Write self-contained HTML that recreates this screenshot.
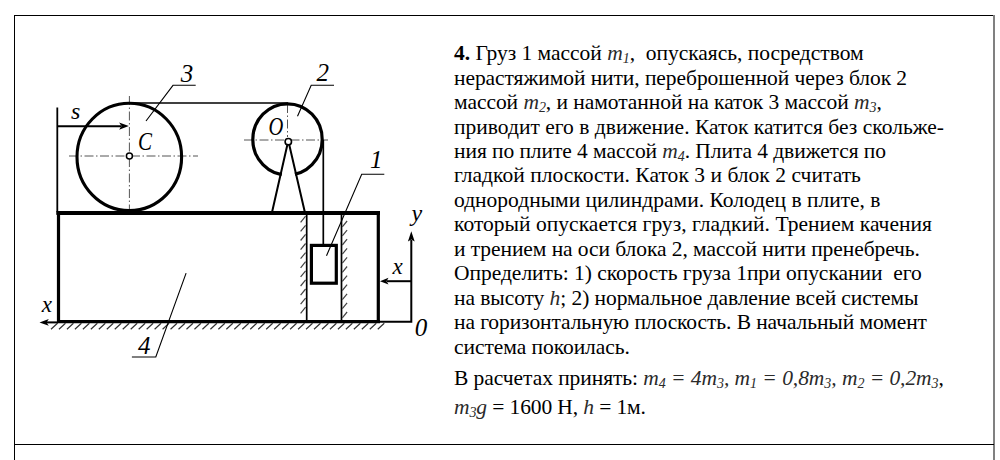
<!DOCTYPE html>
<html><head><meta charset="utf-8">
<style>
html,body{margin:0;padding:0;background:#fff;width:1000px;height:460px;overflow:hidden;position:relative}
.t{position:absolute;left:454px;font-family:"Liberation Serif",serif;font-size:21.5px;line-height:24px;white-space:pre;color:#000}
.t i{font-style:italic;color:#2a2a2a}
.t sub{font-size:14px;vertical-align:baseline;position:relative;top:3px;line-height:0}
svg{position:absolute;left:0;top:0}
.lb{font-family:"Liberation Serif",serif;font-style:italic;font-size:25px}
</style></head><body>
<svg width="1000" height="460" viewBox="0 0 1000 460">
  <rect x="14" y="15" width="1" height="445" fill="#000"/>
  <rect x="14" y="15" width="980" height="1" fill="#000"/>
  <rect x="993" y="15" width="2" height="445" fill="#808080"/>
  <rect x="14" y="444" width="980" height="1" fill="#000"/>
  <g stroke="#000" fill="none" stroke-linecap="butt">
    <g stroke="#555" stroke-width="1" stroke-dasharray="9 2.5 1.5 2.5">
      <path d="M67 156H198" stroke-dashoffset="-2"/>
      <path d="M129.4 96V211"/>
      <path d="M244 140H328"/>
      <path d="M287.5 104V137"/>
    </g>
    <ellipse cx="129.3" cy="156.9" rx="52.3" ry="53.6" stroke-width="3.1"/>
    <ellipse cx="287.5" cy="139.4" rx="34.7" ry="35.6" stroke-width="3.2"/>
    <path d="M288.3 146L273.5 211L303.5 211Z" fill="#fff" stroke="none"/>
    <path d="M129.5 103H288" stroke-width="1.7"/>
    <path d="M323.3 140V245" stroke-width="1.7"/>
    <path d="M57.3 107.5V212" stroke-width="1.8"/>
    <path d="M57.3 126.2H121" stroke-width="2"/>
    <path d="M287.3 145L272.2 211.5M289.3 145L304.7 211.5" stroke-width="2"/>
    <path d="M56.5 213H380M58.5 211V321.6M378.3 213V323M57 321.6H380" stroke-width="3.2"/>
    <path d="M56.5 213H380" stroke-width="3.8"/>
    <path d="M306.7 213V321.4M341.5 213V321.4" stroke-width="1.7"/>
    <path d="M300.6 222.30L305.6 216.20 M300.6 231.40L305.6 225.30 M300.6 240.50L305.6 234.40 M300.6 249.60L305.6 243.50 M300.6 258.70L305.6 252.60 M300.6 267.80L305.6 261.70 M300.6 276.90L305.6 270.80 M300.6 286.00L305.6 279.90 M300.6 295.10L305.6 289.00 M300.6 304.20L305.6 298.10 M300.6 313.30L305.6 307.20 M342.3 226.80L347.1 221.00 M342.3 235.90L347.1 230.10 M342.3 245.00L347.1 239.20 M342.3 254.10L347.1 248.30 M342.3 263.20L347.1 257.40 M342.3 272.30L347.1 266.50 M342.3 281.40L347.1 275.60 M342.3 290.50L347.1 284.70 M342.3 299.60L347.1 293.80 M342.3 308.70L347.1 302.90 M342.3 317.80L347.1 312.00" stroke-width="1.2" stroke="#444"/>
    <path d="M51.00 329.2L57.50 323.2 M58.97 329.2L65.47 323.2 M66.94 329.2L73.44 323.2 M74.91 329.2L81.41 323.2 M82.88 329.2L89.38 323.2 M90.85 329.2L97.35 323.2 M98.82 329.2L105.32 323.2 M106.79 329.2L113.29 323.2 M114.76 329.2L121.26 323.2 M122.73 329.2L129.23 323.2 M130.70 329.2L137.20 323.2 M138.67 329.2L145.17 323.2 M146.64 329.2L153.14 323.2 M154.61 329.2L161.11 323.2 M162.58 329.2L169.08 323.2 M170.55 329.2L177.05 323.2 M178.52 329.2L185.02 323.2 M186.49 329.2L192.99 323.2 M194.46 329.2L200.96 323.2 M202.43 329.2L208.93 323.2 M210.40 329.2L216.90 323.2 M218.37 329.2L224.87 323.2 M226.34 329.2L232.84 323.2 M234.31 329.2L240.81 323.2 M242.28 329.2L248.78 323.2 M250.25 329.2L256.75 323.2 M258.22 329.2L264.72 323.2 M266.19 329.2L272.69 323.2 M274.16 329.2L280.66 323.2 M282.13 329.2L288.63 323.2 M290.10 329.2L296.60 323.2 M298.07 329.2L304.57 323.2 M306.04 329.2L312.54 323.2 M314.01 329.2L320.51 323.2 M321.98 329.2L328.48 323.2 M329.95 329.2L336.45 323.2 M337.92 329.2L344.42 323.2 M345.89 329.2L352.39 323.2 M353.86 329.2L360.36 323.2 M361.83 329.2L368.33 323.2 M369.80 329.2L376.30 323.2 M377.77 329.2L384.27 323.2" stroke-width="1.2" stroke="#333"/>
    <rect x="311.4" y="245.4" width="24.9" height="37.8" stroke-width="3.2"/>
    <path d="M195.7 85.3H173L146 121" stroke-width="1.1"/>
    <path d="M334 85.3H311.2L297.5 116.2" stroke-width="1.1"/>
    <path d="M384.3 174.3H361.7L326.5 255.8" stroke-width="1.1"/>
    <path d="M131.9 357H155.8L186.1 273.1" stroke-width="1.1"/>
    <path d="M379 321.8H411.3V240" stroke-width="2"/>
    <path d="M411.3 281.2H387" stroke-width="2"/>
    <path d="M58 322.4H46" stroke-width="2"/>
    <circle cx="129.4" cy="155.9" r="3" stroke-width="1.5" fill="#fff"/>
    <circle cx="288.3" cy="141.7" r="3.2" stroke-width="1.6" fill="#fff"/>
  </g>
  <g fill="#000">
    <path d="M128.8 126L119.1 122.4L121.5 126.1L119.1 129.8Z"/>
    <path d="M411.3 231.2L407.9 241.6L411.3 239.6L414.7 241.6Z"/>
    <path d="M380 281.2L388.5 277.8L386.5 281.2L388.5 284.6Z"/>
    <path d="M39.5 322.4L48.8 319L46.5 322.4L48.8 325.8Z"/>
  </g>
  <g class="lb">
    <text x="71" y="118.5" style="font-size:24px">s</text>
    <text transform="translate(137.9 150) scale(0.84 1)">C</text>
    <text x="180.7" y="81.5">3</text>
    <text transform="translate(268.6 134.9) scale(0.82 1)">O</text>
    <text x="316.5" y="81">2</text>
    <text x="370" y="168.2">1</text>
    <text x="411.5" y="220.5" style="font-size:24px">y</text>
    <text x="392.5" y="273.8" style="font-size:23px">x</text>
    <text x="41.8" y="311.8" style="font-size:23px">x</text>
    <text x="138" y="354.3">4</text>
    <text x="414.8" y="336.2">0</text>
  </g>
</svg>
<div class="t" style="top:41.24px;letter-spacing:-0.023px"><b>4.</b> Груз 1 массой <i>m<sub>1</sub></i>,  опускаясь, посредством</div>
<div class="t" style="top:65.69px;letter-spacing:-0.064px">нерастяжимой нити, переброшенной через блок 2</div>
<div class="t" style="top:90.14px;letter-spacing:-0.045px">массой <i>m<sub>2</sub></i>, и намотанной на каток 3 массой <i>m<sub>3</sub></i>,</div>
<div class="t" style="top:114.59px;letter-spacing:0.014px">приводит его в движение. Каток катится без скольже-</div>
<div class="t" style="top:139.04px;letter-spacing:-0.068px">ния по плите 4 массой <i>m<sub>4</sub></i>. Плита 4 движется по</div>
<div class="t" style="top:163.49px;letter-spacing:0.029px">гладкой плоскости. Каток 3 и блок 2 считать</div>
<div class="t" style="top:187.94px;letter-spacing:0.000px">однородными цилиндрами. Колодец в плите, в</div>
<div class="t" style="top:212.39px;letter-spacing:0.029px">который опускается груз, гладкий. Трением качения</div>
<div class="t" style="top:236.84px;letter-spacing:-0.073px">и трением на оси блока 2, массой нити пренебречь.</div>
<div class="t" style="top:261.29px;letter-spacing:-0.023px">Определить: 1) скорость груза 1при опускании  его</div>
<div class="t" style="top:285.74px;letter-spacing:-0.072px">на высоту <i>h</i>; 2) нормальное давление всей системы</div>
<div class="t" style="top:310.19px;letter-spacing:-0.087px">на горизонтальную плоскость. В начальный момент</div>
<div class="t" style="top:334.64px;letter-spacing:-0.053px">система покоилась.</div>
<div class="t" style="top:365.74px;letter-spacing:-0.058px">В расчетах принять: <i>m<sub>4</sub> = 4m<sub>3</sub>, m<sub>1</sub> = 0,8m<sub>3</sub>, m<sub>2</sub> = 0,2m<sub>3</sub></i>,</div>
<div class="t" style="top:394.54px;letter-spacing:-0.110px"><i>m<sub>3</sub>g</i> = 1600 Н, <i>h</i> = 1м.</div>
</body></html>
